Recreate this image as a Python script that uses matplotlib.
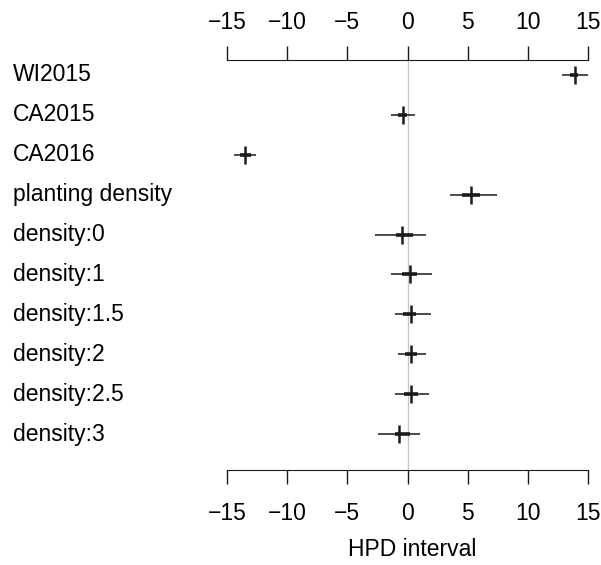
import numpy as np
import matplotlib.pyplot as plt
from matplotlib.transforms import blended_transform_factory

plt.rcParams['font.family'] = ['Liberation Sans', 'DejaVu Sans']

# parameter names, top to bottom
labels = ["WI2015", "CA2015", "CA2016", "planting density",
          "density:0", "density:1", "density:1.5", "density:2",
          "density:2.5", "density:3"]

# point estimate, inner (thick) and outer (thin) HPD intervals
est = [13.96, -0.39, -13.55, 5.32, -0.44, 0.19, 0.30, 0.30, 0.25, -0.72]
inner_lo = [13.49, -0.80, -13.97, 4.55, -0.94, -0.44, -0.39, -0.22, -0.30, -1.06]
inner_hi = [14.16, -0.03, -13.05, 6.01, 0.44, 0.75, 0.72, 0.80, 0.89, 0.19]
outer_lo = [12.86, -1.41, -14.44, 3.52, -2.72, -1.36, -1.00, -0.80, -1.00, -2.47]
outer_hi = [15.13, 0.66, -12.58, 7.46, 1.55, 2.00, 1.94, 1.52, 1.77, 1.08]

ticks = [-15, -10, -5, 0, 5, 10, 15]
ticklabels = ["\u2212" + str(-t) if t < 0 else str(t) for t in ticks]

W, H = 601, 565
fig = plt.figure(figsize=(W / 100, H / 100), dpi=100)
ax = fig.add_axes([227 / W, 1 - 470 / H, (588 - 227) / W, (470 - 60) / H])

col = "#1a1a1a"
fs = 16.5
y = np.arange(1, len(labels) + 1)

ax.axvline(0, color="#c8c8c8", lw=1.0, zorder=0)
ax.hlines(y, outer_lo, outer_hi, color=col, lw=1.1)
ax.hlines(y, inner_lo, inner_hi, color=col, lw=2.6)
ax.plot(est, y, linestyle="none", marker="|", markersize=12.5, mew=1.8, color=col)

ax.set_xlim(-15.02, 15.02)
ax.set_ylim(10.9, 0.625)

for s in ["left", "right", "top"]:
    ax.spines[s].set_visible(False)
ax.spines["bottom"].set_bounds(-15, 15)
ax.spines["bottom"].set_color(col)

ax.set_xticks(ticks)
ax.set_xticklabels(ticklabels)
ax.tick_params(axis="x", direction="out", length=10, width=1.0, color=col,
               labelsize=fs, pad=13)
ax.set_yticks([])

# top axis
sec = ax.secondary_xaxis("top")
sec.spines["top"].set_bounds(-15, 15)
sec.spines["top"].set_color(col)
sec.set_xticks(ticks)
sec.set_xticklabels(ticklabels)
sec.tick_params(axis="x", direction="out", length=10, width=1.0, color=col,
                labelsize=fs, pad=9)

trans = blended_transform_factory(fig.transFigure, ax.transData)
for yi, lab in zip(y, labels):
    ax.text(13 / W, yi, lab, transform=trans, fontsize=fs, va="center", ha="left")

fig.text(412 / W, 1 - 550 / H, "HPD interval", fontsize=fs, ha="center", va="center")

fig.savefig("out.png", dpi=100)
